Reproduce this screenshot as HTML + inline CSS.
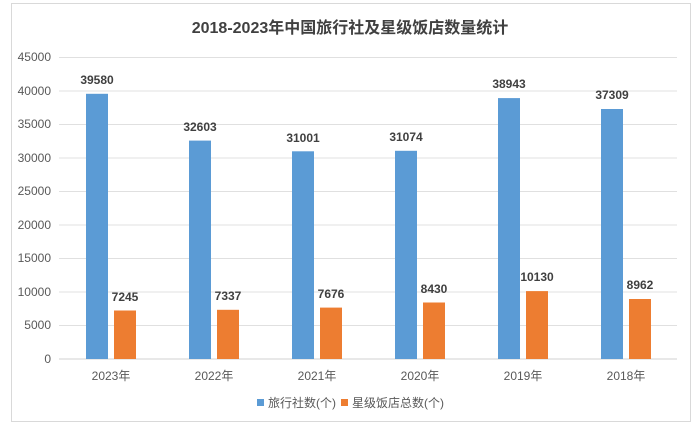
<!DOCTYPE html>
<html><head><meta charset="utf-8"><style>body{margin:0;background:#fff}</style></head><body>
<svg width="699" height="430" xmlns="http://www.w3.org/2000/svg" font-family="Liberation Sans, Noto Sans CJK SC, sans-serif">
<rect x="0" y="0" width="699" height="430" fill="#fff"/>
<rect x="11.5" y="3.5" width="679" height="418" fill="none" stroke="#d9d9d9"/>
<text x="350" y="33" text-anchor="middle" font-size="16" font-weight="bold" fill="#404040">2018-2023年中国旅行社及星级饭店数量统计</text>
<g stroke="#e0e0e0" stroke-width="1">
<line x1="59" x2="677" y1="57.5" y2="57.5"/><line x1="59" x2="677" y1="91" y2="91"/><line x1="59" x2="677" y1="124.5" y2="124.5"/><line x1="59" x2="677" y1="158" y2="158"/><line x1="59" x2="677" y1="191.5" y2="191.5"/><line x1="59" x2="677" y1="225" y2="225"/><line x1="59" x2="677" y1="258.5" y2="258.5"/><line x1="59" x2="677" y1="292" y2="292"/><line x1="59" x2="677" y1="325.5" y2="325.5"/></g>
<line x1="59" x2="677" y1="359" y2="359" stroke="#d0d0d0"/>
<g font-size="12" fill="#595959" text-anchor="end">
<text x="51" y="61">45000</text><text x="51" y="95">40000</text><text x="51" y="128">35000</text><text x="51" y="162">30000</text><text x="51" y="195">25000</text><text x="51" y="229">20000</text><text x="51" y="262">15000</text><text x="51" y="296">10000</text><text x="51" y="329">5000</text><text x="51" y="363">0</text></g>
<g fill="#5b9bd5">
<rect x="86" y="93.8" width="22" height="265.2"/>
<rect x="189" y="140.6" width="22" height="218.4"/>
<rect x="292" y="151.3" width="22" height="207.7"/>
<rect x="395" y="150.8" width="22" height="208.2"/>
<rect x="498" y="98.1" width="22" height="260.9"/>
<rect x="601" y="109" width="22" height="250"/></g>
<g fill="#ed7d31">
<rect x="114" y="310.5" width="22" height="48.5"/>
<rect x="217" y="309.8" width="22" height="49.2"/>
<rect x="320" y="307.6" width="22" height="51.4"/>
<rect x="423" y="302.5" width="22" height="56.5"/>
<rect x="526" y="291.1" width="22" height="67.9"/>
<rect x="629" y="299" width="22" height="60"/></g>
<g font-size="12" font-weight="bold" fill="#404040" text-anchor="middle">
<text x="97" y="84">39580</text><text x="200" y="131">32603</text><text x="303" y="142">31001</text><text x="406" y="141">31074</text><text x="509" y="88">38943</text><text x="612" y="99">37309</text>
<text x="125" y="301">7245</text><text x="228" y="300">7337</text><text x="331" y="298">7676</text><text x="434" y="293">8430</text><text x="537" y="281">10130</text><text x="640" y="289">8962</text></g>
<g font-size="12" fill="#595959" text-anchor="middle">
<text x="111" y="380">2023年</text><text x="214" y="380">2022年</text><text x="317" y="380">2021年</text><text x="420" y="380">2020年</text><text x="523" y="380">2019年</text><text x="626" y="380">2018年</text></g>
<rect x="257" y="399" width="7" height="7" fill="#5b9bd5"/>
<text x="268" y="407" font-size="12" fill="#595959">旅行社数(个)</text>
<rect x="341" y="399" width="7" height="7" fill="#ed7d31"/>
<text x="352" y="407" font-size="12" fill="#595959">星级饭店总数(个)</text>
</svg>
</body></html>
